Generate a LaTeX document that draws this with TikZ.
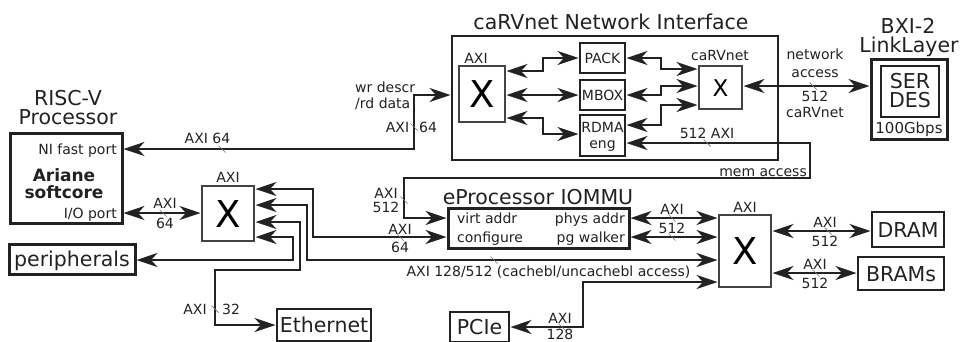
\documentclass[tikz,border=0pt]{standalone}
\usepackage{fontspec}
\setmainfont{DejaVu Sans}
\usetikzlibrary{arrows.meta}
\definecolor{ink}{HTML}{222222}
\definecolor{thinc}{HTML}{444444}
\definecolor{tickc}{HTML}{777777}
\newcommand\bustick[2]{\draw[tickmark] (#1-3.5,#2-3.5) -- (#1+3.5,#2+3.5);}
\begin{document}
\begin{tikzpicture}[x=1pt,y=-1pt,
  >={Stealth[length=21pt,width=14pt,inset=6.5pt]},
  conn/.style={draw=ink, line width=1.6pt, <->, shorten <=1.5pt, shorten >=1.5pt},
  tickmark/.style={draw=tickc, line width=0.7pt},
  lbl/.style={font=\fontsize{14}{16}\selectfont, inner sep=0pt, text height=10pt, text depth=0pt, text=ink},
  big/.style={font=\fontsize{20.5}{22}\selectfont, inner sep=0pt, text height=15pt, text depth=0pt, text=ink},
  bold/.style={font=\fontsize{17}{19}\selectfont\bfseries, inner sep=0pt, text height=12.4pt, text depth=0pt, text=ink},
  box/.style={draw=ink, line width=1.8pt, inner sep=0pt, outer sep=0pt},
  thickbox/.style={draw=ink, line width=3pt, inner sep=0pt, outer sep=0pt},
  xbox/.style={draw=thinc, line width=1.2pt, inner sep=0pt, outer sep=0pt,
    font=\fontsize{37}{40}\selectfont, text height=27pt, text depth=0pt},
]
\useasboundingbox (0,0) rectangle (960,341);

% ---------------- caRVnet network interface ----------------
\node[box, line width=2pt, minimum width=326pt, minimum height=124pt] (ni) at (615,98) {};
\node[big] (nititle) at (611,22) {caRVnet Network Interface};
\node[xbox, minimum width=46pt, minimum height=56pt] (nix) at (482,94) {X};
\node[lbl] (nixlbl) at (476,58) {AXI};
\node[box, lbl, minimum width=45pt, minimum height=30pt] (pack) at (602.5,58) {PACK};
\node[box, lbl, minimum width=45pt, minimum height=30pt] (mbox) at (602.5,95) {MBOX};
\node[box, minimum width=45pt, minimum height=41pt] (rdma) at (602.5,135.5) {};
\node[lbl] (rdmaa) at (602.5,127) {RDMA};
\node[lbl] (rdmab) at (602.5,143) {eng};
\node[xbox, font=\fontsize{23}{25}\selectfont, text height=17pt, minimum width=43pt, minimum height=43pt] (cx) at (720.5,87.5) {X};
\node[lbl] (cxlbl) at (720,55) {caRVnet};

% ---------------- BXI-2 link layer ----------------
\node[big] (bxit1) at (908,26) {BXI-2};
\node[big] (bxit2) at (909,45) {LinkLayer};
\node[thickbox, minimum width=76pt, minimum height=80pt] (bxi) at (909,99) {};
\node[box, line width=2.5pt, minimum width=58pt, minimum height=51pt] (serdes) at (910,91.5) {};
\node[big] (ser) at (910,81) {SER};
\node[big] (des) at (910,100) {DES};
\node[lbl, font=\fontsize{15}{17}\selectfont] (gbps) at (909,128) {100Gbps};

% ---------------- RISC-V processor ----------------
\node[big] (rv1) at (68,98) {RISC-V};
\node[big] (rv2) at (68,117) {Processor};
\node[thickbox, minimum width=112pt, minimum height=90pt] (proc) at (66,178) {};
\node[lbl, anchor=east] (nifast) at (117,149) {NI fast port};
\node[bold] (ariane) at (64,175) {Ariane};
\node[bold] (softcore) at (64,192) {softcore};
\node[lbl, anchor=east] (ioport) at (117,213) {I/O port};

% ---------------- peripherals side ----------------
\node[thickbox, big, minimum width=126pt, minimum height=30pt] (periph) at (72,259) {peripherals};
\node[xbox, minimum width=52pt, minimum height=55pt] (xl) at (228,213.5) {X};
\node[lbl] (xllbl) at (228,177) {AXI};
\node[box, big, minimum width=94pt, minimum height=32pt] (eth) at (324,325) {Ethernet};
\node[box, big, minimum width=59pt, minimum height=30pt] (pcie) at (479.5,327) {PCIe};

% ---------------- IOMMU ----------------
\node[big] (iomtitle) at (538,197) {eProcessor IOMMU};
\node[thickbox, minimum width=181pt, minimum height=40pt] (iommu) at (538.5,228) {};
\node[lbl, anchor=west] (virt) at (457,218) {virt addr};
\node[lbl, anchor=west] (conf) at (457,237) {configure};
\node[lbl, anchor=east] (phys) at (625,218) {phys addr};
\node[lbl, anchor=east] (pgw) at (625,237) {pg walker};

% ---------------- memory crossbar ----------------
\node[xbox, minimum width=52pt, minimum height=72pt] (bx) at (745,251) {X};
\node[lbl] (bxlbl) at (745,207) {AXI};
\node[box, big, minimum width=72pt, minimum height=35pt] (dram) at (908,229.5) {DRAM};
\node[box, big, minimum width=86pt, minimum height=33pt] (brams) at (901,273.5) {BRAMs};

% ---------------- connectors ----------------
\draw[conn] (proc.east |- 0,149) -- (414,149) -- (414,95) -- (ni.west |- 0,95);
\draw[conn] (nix.east |- 0,71) -- (543,71) |- (pack.west);
\draw[conn] (nix.east |- 0,95) -- (mbox.west);
\draw[conn] (nix.east |- 0,118) -- (543,118) |- (rdma.west |- 0,134);
\draw[conn] (pack.east) -- (661,58) |- (cx.west |- 0,69);
\draw[conn] (mbox.east) -- (661,95) |- (cx.west |- 0,86);
\draw[conn] (rdma.east |- 0,125) -- (661,125) |- (cx.west |- 0,105);
\draw[conn] (cx.east |- 0,86) -- (bxi.west |- 0,86);
\draw[conn] (rdma.east |- 0,143) -- (810,143) -- (810,178) -- (404,178) -- (404,218) -- (iommu.west |- 0,218);
\draw[conn] (proc.east |- 0,213) -- (xl.west |- 0,213);
\draw[conn] (xl.east |- 0,189) -- (313,189) |- (iommu.west |- 0,237);
\draw[conn] (xl.east |- 0,205) -- (307,205) |- (bx.west |- 0,260);
\draw[conn] (xl.east |- 0,222) -- (300,222) -- (300,270) -- (215,270) |- (eth.west);
\draw[conn] (xl.east |- 0,237) -- (293,237) -- (293,260) -- (periph.east |- 0,260);
\draw[conn] (iommu.east |- 0,218) -- (bx.west |- 0,218);
\draw[conn] (iommu.east |- 0,237) -- (bx.west |- 0,237);
\draw[conn] (pcie.east) -- (583,327) |- (bx.west |- 0,282);
\draw[conn] (bx.east |- 0,231) -- (dram.west |- 0,231);
\draw[conn] (bx.east |- 0,273) -- (brams.west |- 0,273);

% ---------------- bus widths ----------------
\bustick{222}{149}
\node[lbl] (l1) at (207.5,138) {AXI 64};
\bustick{414}{127}
\node[lbl] (l2a) at (397.5,127) {AXI};
\node[lbl] (l2b) at (428,127) {64};
\node[lbl, anchor=west] (wr1) at (355,87) {wr descr};
\node[lbl, anchor=west] (wr2) at (355,103) {/rd data};
\bustick{813}{86}
\node[lbl] (na1) at (815,54) {network};
\node[lbl] (na2) at (815,72) {access};
\node[lbl] (na3) at (815,96) {512};
\node[lbl] (na4) at (815,112) {caRVnet};
\bustick{707}{143}
\node[lbl] (l3) at (707,133) {512 AXI};
\node[lbl, anchor=east] (mem) at (807,171) {mem access};
\bustick{404}{200}
\node[lbl] (l4a) at (386,193) {AXI};
\node[lbl] (l4b) at (386,207) {512};
\bustick{400}{237}
\node[lbl] (l5a) at (400,229) {AXI};
\node[lbl] (l5b) at (400,247) {64};
\bustick{163}{213}
\node[lbl] (l6a) at (165,203) {AXI};
\node[lbl] (l6b) at (165,223) {64};
\bustick{215}{309}
\node[lbl] (l7a) at (195,309) {AXI};
\node[lbl] (l7b) at (231,309) {32};
\bustick{494}{260}
\node[lbl] (l8) at (548.5,271) {AXI 128/512 (cachebl/uncachebl access)};
\bustick{672}{218}
\bustick{672}{237}
\node[lbl] (l9a) at (672,209) {AXI};
\node[lbl] (l9b) at (672,228) {512};
\bustick{562}{327}
\node[lbl] (l10a) at (560,318) {AXI};
\node[lbl] (l10b) at (560,334) {128};
\bustick{828}{231}
\node[lbl] (l11a) at (825,222) {AXI};
\node[lbl] (l11b) at (825,241) {512};
\bustick{816}{273}
\node[lbl] (l12a) at (815,264) {AXI};
\node[lbl] (l12b) at (815,283) {512};
\end{tikzpicture}
\end{document}
